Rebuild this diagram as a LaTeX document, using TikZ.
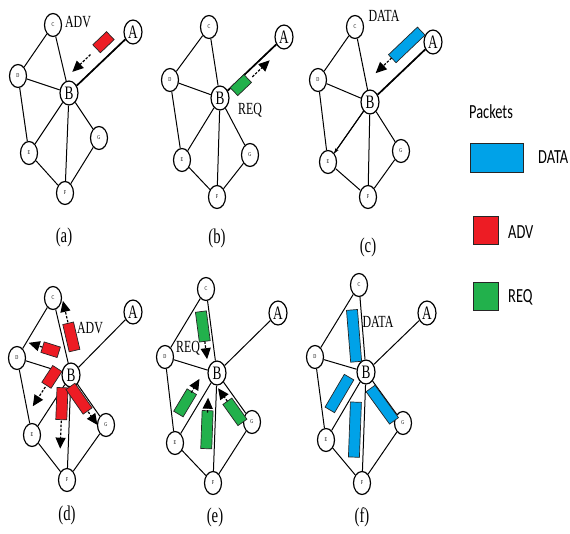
\documentclass[tikz,border=0pt]{standalone}
\usepackage{fontspec}
\setmainfont{Liberation Serif}[FakeStretch=0.7]
\newfontfamily\legfont{Carlito}[FakeStretch=0.72]
\usetikzlibrary{arrows.meta, calc, shapes.geometric}
\definecolor{advred}{RGB}{237,28,36}
\definecolor{reqgreen}{RGB}{34,177,76}
\definecolor{datablue}{RGB}{0,162,232}
\tikzset{%
  stn/.style={ellipse, draw, fill=white, line width=1.2pt, minimum width=17pt,
    minimum height=23pt, inner sep=0pt, font=\fontsize{6}{6}\selectfont},
  hub/.style={stn, minimum width=18pt, minimum height=24pt, font=\fontsize{19}{19}\selectfont},
  link/.style={line width=1pt},
  packet/.style={rectangle, draw=black!85, line width=0.7pt, minimum height=11pt, inner sep=0pt},
  flow/.style={line width=1.2pt, dash pattern=on 2.5pt off 1.5pt, -{Triangle[length=11pt, width=10pt]}},
  tag/.style={font=\fontsize{17}{17}\selectfont},
  panel/.style={font=\fontsize{21}{21}\selectfont},
  key/.style={rectangle, draw=black!85, line width=1pt, inner sep=0pt},
  keytext/.style={font=\legfont\fontsize{20}{20}\selectfont},
}
% the network: positions of A, B, C, D, E, F, G
\newcommand{\net}[7]{%
  \node[hub] (A) at #1 {A};
  \node[hub] (B) at #2 {B};
  \node[stn] (C) at #3 {C};
  \node[stn] (D) at #4 {D};
  \node[stn] (E) at #5 {E};
  \node[stn] (F) at #6 {F};
  \node[stn] (G) at #7 {G};
  \draw[link] (C) -- (D) (C) -- (B) (D) -- (B) (D) -- (E) (B) -- (A)
    (B) -- (E) (B) -- (F) (B) -- (G) (E) -- (F) (F) -- (G);
}
% packet beside the link B--#1: side offset #2, centre #3 from B, length #4, colour #5
\newcommand{\pkt}[5]{%
  \path ($(B)!#2!90:(#1)$) coordinate (s) -- ($(#1)!#2!-90:(B)$) coordinate (t);
  \path ($(s)!#3!(t)$) -- (t) node[packet, sloped, pos=0, minimum width=#4, fill=#5] {};
}
% arrow beside the link B--#1: side offset #2, from #3 to #4 (measured from B)
\newcommand{\mv}[4]{%
  \path ($(B)!#2!90:(#1)$) coordinate (s) -- ($(#1)!#2!-90:(B)$) coordinate (t);
  \draw[flow] ($(s)!#3!(t)$) -- ($(s)!#4!(t)$);
}

\begin{document}
\begin{tikzpicture}[x=1pt, y=1pt]
  \useasboundingbox (0,0) rectangle (570,-533);

  % (a)
  \begin{scope}[name prefix=a-]
    \net{(133,-32)}{(69,-93)}{(53,-25)}{(18,-76)}{(29,-153)}{(65,-193)}{(99,-138)}
    \draw[link, line width=1.7pt] (B) -- (A);
    \pkt{A}{13pt}{60pt}{19pt}{advred}
    \mv{A}{13pt}{42pt}{17pt}
    \node[tag] (msg) at (78,-22) {ADV};
    \node[panel] (lab) at (64,-237) {(a)};
  \end{scope}

  % (b)
  \begin{scope}[name prefix=b-]
    \net{(284,-37)}{(220,-98)}{(209,-27)}{(170,-80)}{(182,-160)}{(217,-197)}{(250,-155)}
    \draw[link, line width=1.7pt] (B) -- (A);
    \pkt{A}{-5pt}{24pt}{19pt}{reqgreen}
    \mv{A}{-7pt}{38pt}{62pt}
    \node[tag] (msg) at (250,-110) {REQ};
    \node[panel] (lab) at (217,-238) {(b)};
  \end{scope}

  % (c)
  \begin{scope}[name prefix=c-]
    \net{(433,-42)}{(370,-102)}{(355,-27)}{(318,-80)}{(328,-162)}{(368,-197)}{(401,-151)}
    \draw[link, line width=1.7pt] (B) -- (A);
    \draw[link, -{Stealth[length=5pt]}] (B) -- (E);
    \pkt{A}{16pt}{66pt}{40pt}{datablue}
    \mv{A}{17pt}{46pt}{24pt}
    \node[tag] (msg) at (384,-16) {DATA};
    \node[panel] (lab) at (368,-247) {(c)};
  \end{scope}

  % (d)
  \begin{scope}[name prefix=d-]
    \net{(133,-312)}{(71,-375)}{(53,-298)}{(17,-358)}{(32,-435)}{(67,-480)}{(106,-425)}
    \pkt{C}{-9pt}{37pt}{28pt}{advred}   \mv{C}{-9pt}{52pt}{74pt}
    \pkt{D}{-18pt}{27pt}{17pt}{advred}  \mv{D}{-18pt}{36pt}{50pt}
    \pkt{E}{-15pt}{12pt}{20pt}{advred}  \mv{E}{-15pt}{24pt}{47pt}
    \pkt{F}{-8pt}{29pt}{32pt}{advred}   \mv{F}{-8pt}{46pt}{74pt}
    \pkt{G}{-7pt}{24pt}{30pt}{advred}   \mv{G}{-7pt}{40pt}{56pt}
    \node[tag] (msg) at (90,-328) {ADV};
    \node[panel] (lab) at (67,-515) {(d)};
  \end{scope}

  % (e)
  \begin{scope}[name prefix=e-]
    \net{(278,-313)}{(217,-373)}{(206,-289)}{(165,-357)}{(175,-443)}{(213,-483)}{(252,-422)}
    \pkt{C}{8pt}{48pt}{30pt}{reqgreen}   \mv{C}{8pt}{33pt}{15pt}
    \pkt{E}{-12pt}{42pt}{26pt}{reqgreen} \mv{E}{-12pt}{30pt}{14pt}
    \pkt{F}{-8pt}{57pt}{38pt}{reqgreen}  \mv{F}{-8pt}{40pt}{25pt}
    \pkt{G}{-8pt}{42pt}{26pt}{reqgreen}  \mv{G}{-8pt}{29pt}{13pt}
    \node[tag] (msg) at (188,-348) {REQ};
    \node[panel] (lab) at (215,-517) {(e)};
  \end{scope}

  % (f)
  \begin{scope}[name prefix=f-]
    \net{(427,-313)}{(366,-372)}{(359,-285)}{(315,-357)}{(326,-440)}{(362,-483)}{(403,-423)}
    \pkt{C}{9pt}{37pt}{52pt}{datablue}
    \pkt{E}{-12pt}{32pt}{38pt}{datablue}
    \pkt{F}{-9pt}{58pt}{55pt}{datablue}
    \pkt{G}{-6pt}{36pt}{40pt}{datablue}
    \node[tag] (msg) at (378,-322) {DATA};
    \node[panel] (lab) at (362,-517) {(f)};
  \end{scope}

  % legend
  \node[keytext] (title) at (491,-112) {Packets};
  \node[key, fill=datablue, minimum width=53pt, minimum height=29pt] (kdata) at (496.5,-157.5) {};
  \node[keytext, anchor=west, inner sep=0pt] (tdata) at (538,-157) {DATA};
  \node[key, fill=advred, minimum width=25pt, minimum height=28pt] (kadv) at (485.5,-230) {};
  \node[keytext, anchor=west, inner sep=0pt] (tadv) at (508,-232) {ADV};
  \node[key, fill=reqgreen, minimum width=25pt, minimum height=28pt] (kreq) at (485.5,-296) {};
  \node[keytext, anchor=west, inner sep=0pt] (treq) at (508,-297) {REQ};
\end{tikzpicture}
\end{document}
